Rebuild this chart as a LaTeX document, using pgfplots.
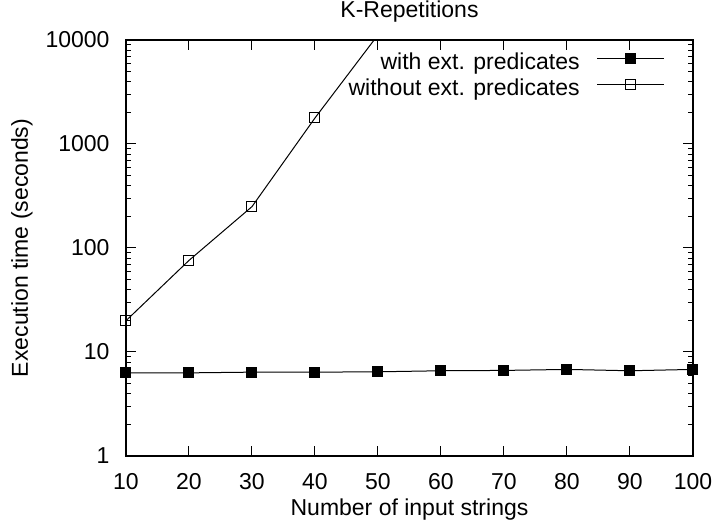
\documentclass[border=0pt]{standalone}
\usepackage{fontspec}
\setmainfont{Liberation Sans}
\usepackage{pgfplots}
\pgfplotsset{compat=1.18}

\begin{document}
\fontsize{11.5}{13.8}\selectfont
\begin{tikzpicture}
\begin{semilogyaxis}[
  scale only axis,
  width=283.5pt, height=208pt,
  xmin=10, xmax=100, ymin=1, ymax=10000,
  xtick={10,20,...,100},
  xticklabels={10,20,30,40,50,60,70,80,90,100},
  ytick={1,10,100,1000,10000},
  yticklabels={1,10,100,1000,10000},
  tick align=inside, tick pos=both,
  major tick length=5pt, minor tick length=2.5pt,
  every tick/.style={black, line width=0.5pt},
  axis line style={line width=0.7pt},
  yticklabel style={xshift=-4.2pt},
  xticklabel style={yshift=-4.5pt},
  title={K-Repetitions},
  every axis title shift=0pt,
  title style={at={(0.5,1.0673)}, anchor=center},
  xlabel={Number of input strings},
  xlabel style={at={(0.5,-0.1298)}, anchor=center},
  ylabel={Execution time (seconds)},
  ylabel style={at={(-0.1834,0.5)}, anchor=center},
  clip=true,
  legend cell align=right,
  legend plot pos=right,
  legend style={draw=none, fill=none, at={(1,1)}, anchor=north east,
    xshift=-14pt, yshift=-6pt,
    inner sep=0pt, row sep=1pt, column sep=8.5pt,
    nodes={inner sep=0pt, text height=8.5pt, text depth=3.5pt},
    font=\fontsize{11.5}{13.8}\selectfont},
  legend image code/.code={
    \draw[mark repeat=2, mark phase=2, #1]
      plot coordinates {(0pt,3pt) (16.75pt,3pt) (33.5pt,3pt)};
  },
]
\addplot[black, line width=0.5pt, mark=square*, mark size=2.5pt,
  mark options={solid}]
  coordinates {
    (10,6.3) (20,6.3) (30,6.4) (40,6.4) (50,6.45)
    (60,6.6) (70,6.65) (80,6.8) (90,6.6) (100,6.8)
  };
\addlegendentry{with ext. predicates}
\addplot[black, line width=0.5pt, mark=square, mark size=2.5pt,
  mark options={solid}]
  coordinates {
    (10,20) (20,76) (30,250) (40,1780) (50,11200)
  };
\addlegendentry{without ext. predicates}
\end{semilogyaxis}
\pgfresetboundingbox
\path[use as bounding box]
  ([shift={(-63pt,-37.5pt)}]current axis.south west)
  rectangle ([shift={(10pt,20pt)}]current axis.north east);
\end{tikzpicture}
\end{document}
